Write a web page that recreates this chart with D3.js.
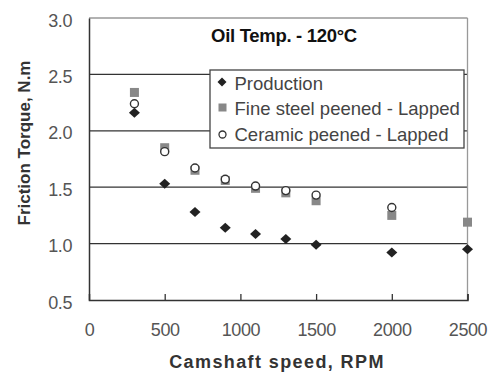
<!DOCTYPE html>
<html><head><meta charset="utf-8">
<script src="https://cdn.jsdelivr.net/npm/d3@7"></script>
<style>body{margin:0;background:#fff}svg{display:block}</style>
</head><body>
<script>
const speeds = [300, 500, 700, 900, 1100, 1300, 1500, 2000, 2500];
const production = [2.16, 1.53, 1.28, 1.14, 1.085, 1.04, 0.99, 0.92, 0.95];
const fineSteel = [2.34, 1.85, 1.65, 1.56, 1.49, 1.45, 1.38, 1.25, 1.19];
const ceramicSpeeds = [300, 500, 700, 900, 1100, 1300, 1500, 2000];
const ceramic = [2.24, 1.815, 1.67, 1.57, 1.51, 1.47, 1.43, 1.32];
const xTicks = [0, 500, 1000, 1500, 2000, 2500];
const yTicks = [0.5, 1.0, 1.5, 2.0, 2.5, 3.0];
const seriesNames = ["Production", "Fine steel peened - Lapped", "Ceramic peened - Lapped"];

const W = 490, H = 374;
const svg = d3.select("body").append("svg").attr("width", W).attr("height", H);
const x = d3.scaleLinear().domain([0, 2500]).range([89, 467.5]);
const y = d3.scaleLinear().domain([0.5, 3.0]).range([300, 18]);
const font = "Liberation Sans, Arial, sans-serif";
const diamondPath = (w, h) => `M0,${-h}L${w},0L0,${h}L${-w},0Z`;

// gridlines
svg.append("g").selectAll("line").data(yTicks.filter(d => d > 0.5 && d < 3))
  .join("line").attr("x1", x(0)).attr("x2", x(2500)).attr("y1", d => y(d)).attr("y2", d => y(d))
  .attr("stroke", "#333").attr("stroke-width", 1.3);
// top & right border
svg.append("line").attr("x1", x(0)).attr("x2", x(2500)).attr("y1", y(3)).attr("y2", y(3)).attr("stroke", "#999").attr("stroke-width", 1.3);
svg.append("line").attr("x1", x(2500)).attr("x2", x(2500)).attr("y1", y(3)).attr("y2", y(0.5)).attr("stroke", "#999").attr("stroke-width", 1.3);

// axes
const xAxis = svg.append("g").attr("transform", `translate(0,${y(0.5)})`)
  .call(d3.axisBottom(x).tickValues(xTicks).tickSize(-6).tickFormat(d3.format("d")));
xAxis.select(".domain").attr("stroke", "#333").attr("stroke-width", 1.5);
xAxis.selectAll(".tick line").attr("stroke", "#333").attr("stroke-width", 1.3);
xAxis.selectAll(".tick text").attr("y", 23).attr("font-size", 18).attr("font-family", font).attr("fill", "#555").attr("letter-spacing", "-0.4");
xAxis.selectAll(".tick").filter(d => d === 0).select("line").remove();

const yAxis = svg.append("g").attr("transform", `translate(${x(0)},0)`)
  .call(d3.axisLeft(y).tickValues(yTicks).tickSize(0).tickFormat(d3.format(".1f")));
yAxis.select(".domain").attr("stroke", "#333").attr("stroke-width", 1.5);
yAxis.selectAll(".tick text").attr("x", -17).attr("dy", "0.45em").attr("font-size", 18).attr("font-family", font).attr("fill", "#555").attr("letter-spacing", "-0.4");

// markers
svg.append("g").selectAll("rect").data(speeds.map((s, i) => [s, fineSteel[i]]))
  .join("rect").attr("x", d => x(d[0]) - 4.5).attr("y", d => y(d[1]) - 4.5).attr("width", 9).attr("height", 9)
  .attr("fill", "#888");
svg.append("g").selectAll("path").data(speeds.map((s, i) => [s, production[i]]))
  .join("path").attr("d", diamondPath(5.5, 5)).attr("transform", d => `translate(${x(d[0])},${y(d[1])})`).attr("fill", "#222");
svg.append("g").selectAll("circle").data(ceramicSpeeds.map((s, i) => [s, ceramic[i]]))
  .join("circle").attr("cx", d => x(d[0])).attr("cy", d => y(d[1])).attr("r", 4)
  .attr("fill", "#fff").attr("stroke", "#333").attr("stroke-width", 1.4);

// title
svg.append("text").attr("x", 284).attr("y", 42).attr("text-anchor", "middle")
  .attr("font-family", font).attr("font-weight", "bold").attr("font-size", 18.5).attr("fill", "#111")
  .attr("letter-spacing", "-0.3")
  .text("Oil Temp. - 120°C");

// legend
const lg = svg.append("g");
lg.append("rect").attr("x", 210).attr("y", 70).attr("width", 254).attr("height", 78)
  .attr("fill", "#fff").attr("stroke", "#444").attr("stroke-width", 1.3);
const ly = [82, 107.5, 134.5];
lg.append("path").attr("d", diamondPath(4.5, 4.5)).attr("transform", `translate(222,${ly[0]})`).attr("fill", "#222");
lg.append("rect").attr("x", 218.5).attr("y", ly[1] - 4).attr("width", 8).attr("height", 8).attr("fill", "#888");
lg.append("circle").attr("cx", 222.5).attr("cy", ly[2]).attr("r", 3.5).attr("fill", "#fff").attr("stroke", "#333").attr("stroke-width", 1.3);
lg.selectAll("text.l").data(seriesNames).join("text").attr("class", "l")
  .attr("x", 234.5).attr("y", (d, i) => [89.5, 115, 140.5][i])
  .attr("font-family", font).attr("font-size", 18.5).attr("fill", "#444").text(d => d);

// axis titles
svg.append("text").attr("x", 277).attr("y", 368).attr("text-anchor", "middle")
  .attr("font-family", font).attr("font-weight", "bold").attr("font-size", 18).attr("fill", "#333").attr("letter-spacing", "1.4")
  .text("Camshaft speed, RPM");
svg.append("text").attr("transform", "translate(30,143) rotate(-90)").attr("text-anchor", "middle")
  .attr("font-family", font).attr("font-weight", "bold").attr("font-size", 17).attr("fill", "#333")
  .text("Friction Torque, N.m");
</script>
</body></html>
